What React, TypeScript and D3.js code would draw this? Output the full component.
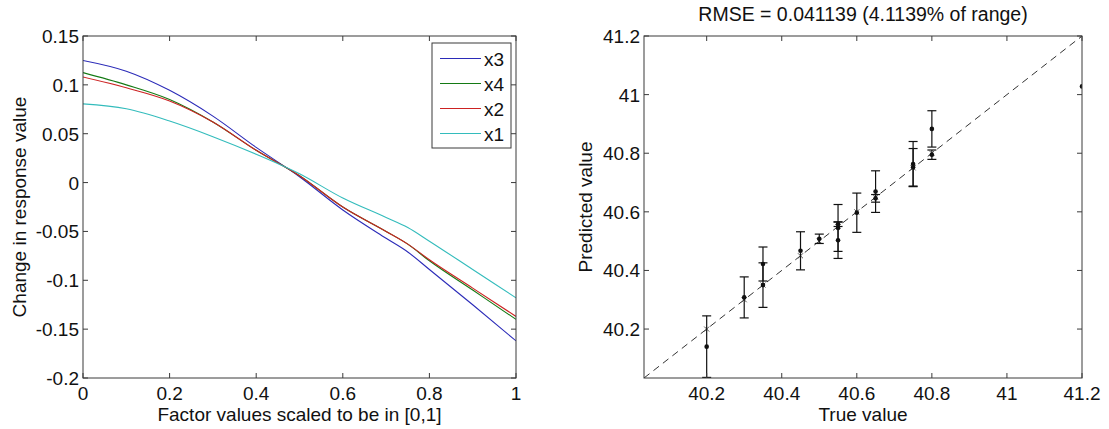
import React from "react";
import * as d3 from "d3";

// ---------- Left panel data ----------
const factorX = [0, 0.1, 0.2, 0.3, 0.4, 0.5, 0.6, 0.7, 0.75, 0.8, 0.9, 1.0];
const seriesX3 = [0.125, 0.114, 0.0944, 0.068, 0.036, 0.006, -0.028, -0.057, -0.071, -0.089, -0.125, -0.162];
const seriesX4 = [0.1125, 0.1, 0.085, 0.062, 0.033, 0.007, -0.025, -0.05, -0.063, -0.08, -0.11, -0.14];
const seriesX2 = [0.108, 0.097, 0.0835, 0.062, 0.033, 0.007, -0.025, -0.05, -0.063, -0.079, -0.108, -0.137];
const seriesX1 = [0.0805, 0.0755, 0.063, 0.047, 0.029, 0.009, -0.0158, -0.0357, -0.046, -0.06, -0.089, -0.118];
const legendNames = ["x3", "x4", "x2", "x1"];
const leftXTicks = [0, 0.2, 0.4, 0.6, 0.8, 1];
const leftYTicks = [0.15, 0.1, 0.05, 0, -0.05, -0.1, -0.15, -0.2];

// ---------- Right panel data ----------
const trueValues = [40.2, 40.3, 40.35, 40.35, 40.45, 40.5, 40.55, 40.55, 40.55, 40.6, 40.65, 40.65, 40.75, 40.75, 40.8, 40.8, 41.2];
const predictedValues = [40.14, 40.308, 40.422, 40.35, 40.467, 40.508, 40.545, 40.503, 40.558, 40.597, 40.669, 40.646, 40.763, 40.752, 40.883, 40.795, 41.028];
const errorValues = [0.105, 0.07, 0.058, 0.076, 0.065, 0.016, 0.08, 0.062, 0.008, 0.067, 0.071, 0.013, 0.077, 0.064, 0.062, 0.016, 0];
const diagonalMarks = [40.2, 40.3, 40.35, 40.45, 40.5, 40.55, 40.6, 40.65, 40.75, 40.8, 41.2];
const rightTicks = [40.2, 40.4, 40.6, 40.8, 41, 41.2];
const rightDomain = [40.033, 41.2];
const titleText = "RMSE = 0.041139 (4.1139% of range)";

const FONT = "'Liberation Sans', Arial, Helvetica, sans-serif";
const AX = "#3a3a3a";
const colors = ["#2b2bb8", "#147a14", "#cc2222", "#33bcbc"];

export default function App() {
  // Left panel geometry
  const L = { x0: 83, x1: 516, y0: 36, y1: 378 };
  const lx = d3.scaleLinear().domain([0, 1]).range([L.x0, L.x1]);
  const ly = d3.scaleLinear().domain([-0.2, 0.15]).range([L.y1, L.y0]);
  const series = [seriesX3, seriesX4, seriesX2, seriesX1];
  const line = d3
    .line<number>()
    .x((_, i) => lx(factorX[i]))
    .y((d) => ly(d))
    .curve(d3.curveMonotoneX);

  // Right panel geometry
  const R = { x0: 644, x1: 1082, y0: 36, y1: 378 };
  const rx = d3.scaleLinear().domain(rightDomain).range([R.x0, R.x1]);
  const ry = d3.scaleLinear().domain(rightDomain).range([R.y1, R.y0]);

  const tick = 5;
  const fs = 19;
  const fmt = (v: number) => String(+v.toFixed(2));

  const legend = { x: 432, y: 43, w: 79, h: 105, row: 25 };

  return (
    <svg
      width={1109}
      height={429}
      style={{ position: "absolute", left: 0, top: 0, background: "#fff" }}
      fontFamily={FONT}
    >
      <rect x={0} y={0} width={1109} height={429} fill="#fff" />

      {/* ================= LEFT PANEL ================= */}
      <g>
        <defs>
          <clipPath id="clipL">
            <rect x={L.x0} y={L.y0} width={L.x1 - L.x0} height={L.y1 - L.y0} />
          </clipPath>
          <clipPath id="clipR">
            <rect x={R.x0} y={R.y0} width={R.x1 - R.x0} height={R.y1 - R.y0} />
          </clipPath>
        </defs>
        <g clipPath="url(#clipL)">
          {series.map((s, i) => (
            <path key={i} d={line(s) || ""} fill="none" stroke={colors[i]} strokeWidth={1.1} />
          ))}
        </g>
        <rect x={L.x0} y={L.y0} width={L.x1 - L.x0} height={L.y1 - L.y0} fill="none" stroke={AX} strokeWidth={1} />
        {leftXTicks.map((t) => (
          <g key={"lxt" + t}>
            <line x1={lx(t)} x2={lx(t)} y1={L.y1} y2={L.y1 - tick} stroke={AX} />
            <line x1={lx(t)} x2={lx(t)} y1={L.y0} y2={L.y0 + tick} stroke={AX} />
            <text x={lx(t)} y={400} textAnchor="middle" fontSize={fs} fill="#111">
              {fmt(t)}
            </text>
          </g>
        ))}
        {leftYTicks.map((t) => (
          <g key={"lyt" + t}>
            <line x1={L.x0} x2={L.x0 + tick} y1={ly(t)} y2={ly(t)} stroke={AX} />
            <line x1={L.x1} x2={L.x1 - tick} y1={ly(t)} y2={ly(t)} stroke={AX} />
            <text x={79} y={ly(t) + 7} textAnchor="end" fontSize={fs} fill="#111">
              {fmt(t)}
            </text>
          </g>
        ))}
        <text x={(L.x0 + L.x1) / 2} y={421} textAnchor="middle" fontSize={fs} fill="#111">
          Factor values scaled to be in [0,1]
        </text>
        <text
          transform={`translate(26,${(L.y0 + L.y1) / 2}) rotate(-90)`}
          textAnchor="middle"
          fontSize={fs}
          fill="#111"
        >
          Change in response value
        </text>

        {/* legend */}
        <rect x={legend.x} y={legend.y} width={legend.w} height={legend.h} fill="#fff" stroke={AX} strokeWidth={1} />
        {legendNames.map((n, i) => {
          const cy = legend.y + 15.5 + i * legend.row;
          return (
            <g key={n}>
              <line x1={legend.x + 8} x2={legend.x + 49} y1={cy} y2={cy} stroke={colors[i]} strokeWidth={1.1} />
              <text x={legend.x + 52} y={cy + 7} fontSize={fs} fill="#111">
                {n}
              </text>
            </g>
          );
        })}
      </g>

      {/* ================= RIGHT PANEL ================= */}
      <g>
        <text x={(R.x0 + R.x1) / 2} y={21} textAnchor="middle" fontSize={19.5} fill="#111">
          {titleText}
        </text>
        <g clipPath="url(#clipR)">
          <line
            x1={rx(rightDomain[0])}
            y1={ry(rightDomain[0])}
            x2={rx(rightDomain[1])}
            y2={ry(rightDomain[1])}
            stroke="#333"
            strokeWidth={1}
            strokeDasharray="7,5"
          />
          {diagonalMarks.map((v, i) => (
            <g key={"dm" + i} stroke="#555" strokeWidth={1}>
              <line x1={rx(v) - 2.5} x2={rx(v) + 2.5} y1={ry(v) - 2.5} y2={ry(v) + 2.5} />
              <line x1={rx(v) - 2.5} x2={rx(v) + 2.5} y1={ry(v) + 2.5} y2={ry(v) - 2.5} />
            </g>
          ))}
          {trueValues.map((t, i) => {
            const x = rx(t);
            const p = predictedValues[i];
            const e = errorValues[i];
            return (
              <g key={"eb" + i} stroke="#111" strokeWidth={1.2}>
                {e > 0 && (
                  <>
                    <line x1={x} x2={x} y1={ry(p - e)} y2={ry(p + e)} />
                    <line x1={x - 4.5} x2={x + 4.5} y1={ry(p - e)} y2={ry(p - e)} />
                    <line x1={x - 4.5} x2={x + 4.5} y1={ry(p + e)} y2={ry(p + e)} />
                  </>
                )}
                <circle cx={x} cy={ry(p)} r={2.3} fill="#111" stroke="none" />
              </g>
            );
          })}
        </g>
        <rect x={R.x0} y={R.y0} width={R.x1 - R.x0} height={R.y1 - R.y0} fill="none" stroke={AX} strokeWidth={1} />
        {rightTicks.map((t) => (
          <g key={"rxt" + t}>
            <line x1={rx(t)} x2={rx(t)} y1={R.y1} y2={R.y1 - tick} stroke={AX} />
            <line x1={rx(t)} x2={rx(t)} y1={R.y0} y2={R.y0 + tick} stroke={AX} />
            <text x={rx(t)} y={400} textAnchor="middle" fontSize={fs} fill="#111">
              {fmt(t)}
            </text>
            <line x1={R.x0} x2={R.x0 + tick} y1={ry(t)} y2={ry(t)} stroke={AX} />
            <line x1={R.x1} x2={R.x1 - tick} y1={ry(t)} y2={ry(t)} stroke={AX} />
            <text x={640} y={ry(t) + 7} textAnchor="end" fontSize={fs} fill="#111">
              {fmt(t)}
            </text>
          </g>
        ))}
        <text x={(R.x0 + R.x1) / 2} y={421} textAnchor="middle" fontSize={fs} fill="#111">
          True value
        </text>
        <text
          transform={`translate(592,${(R.y0 + R.y1) / 2}) rotate(-90)`}
          textAnchor="middle"
          fontSize={fs}
          fill="#111"
        >
          Predicted value
        </text>
      </g>
    </svg>
  );
}
